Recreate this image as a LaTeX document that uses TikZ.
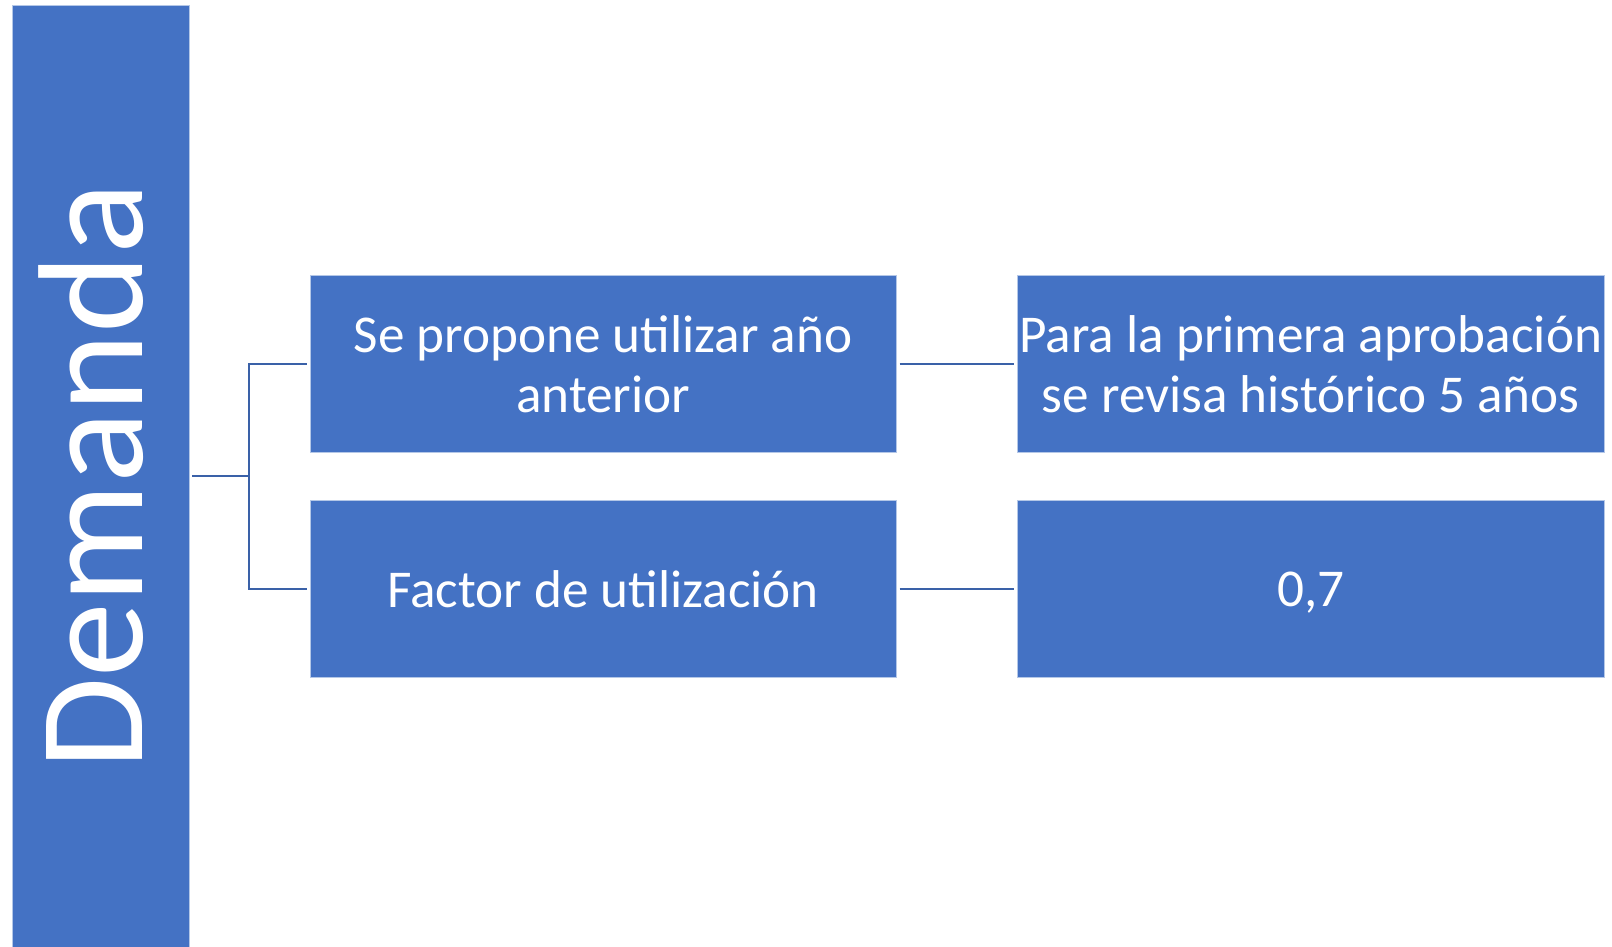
\documentclass[tikz,border=0pt]{standalone}
\usepackage{fontspec}
\setmainfont{Carlito}
\definecolor{boxblue}{HTML}{4472C4}
\definecolor{lineblue}{HTML}{3A61A8}
\begin{document}
\begin{tikzpicture}[x=0.5pt,y=-0.5pt,
  box/.style={rectangle, fill=boxblue, draw=white!60!boxblue, line width=0.4pt, inner sep=0pt,
    text=white, align=center, font=\fontsize{26.6}{29.8}\selectfont},
  conn/.style={draw=lineblue, line width=1pt, shorten <=1.5pt, shorten >=1.5pt}]
\useasboundingbox (0,0) rectangle (1612,947);
\fill[white] (0,0) rectangle (1612,947);
% left bar
\node[box, minimum width=88.5pt, minimum height=471pt] (bar) at (100.5,476) {};
\node[text=white, font=\fontsize{74.8}{74.8}\selectfont, rotate=90, anchor=base, inner sep=0pt] (dem) at (142,476.5) {Demanda};
% boxes
\node[box, minimum width=293.15pt, minimum height=88.3pt] (b1) at (603.15,364) {Se propone utilizar año\\anterior};
\node[box, minimum width=293.15pt, minimum height=88.15pt] (b2) at (603.15,588.85) {Factor de utilización};
\node[box, minimum width=293.5pt, minimum height=88.3pt] (b3) at (1310.8,364) {Para la primera aprobación\\se revisa histórico 5 años};
\node[box, minimum width=293.5pt, minimum height=88.15pt] (b4) at (1310.8,588.85) {\vphantom{Fó}\raisebox{0pt}[\height][0pt]{0,7}};
\coordinate (br) at (249,476);
% connectors
\draw[conn, shorten >=0pt] (bar.east) -- (br);
\draw[conn, shorten <=0pt] (br) |- (b1.west);
\draw[conn, shorten <=0pt] (br) |- (b2.west);
\draw[conn] (b1.east) -- (b3.west);
\draw[conn] (b2.east) -- (b4.west);
\end{tikzpicture}
\end{document}
